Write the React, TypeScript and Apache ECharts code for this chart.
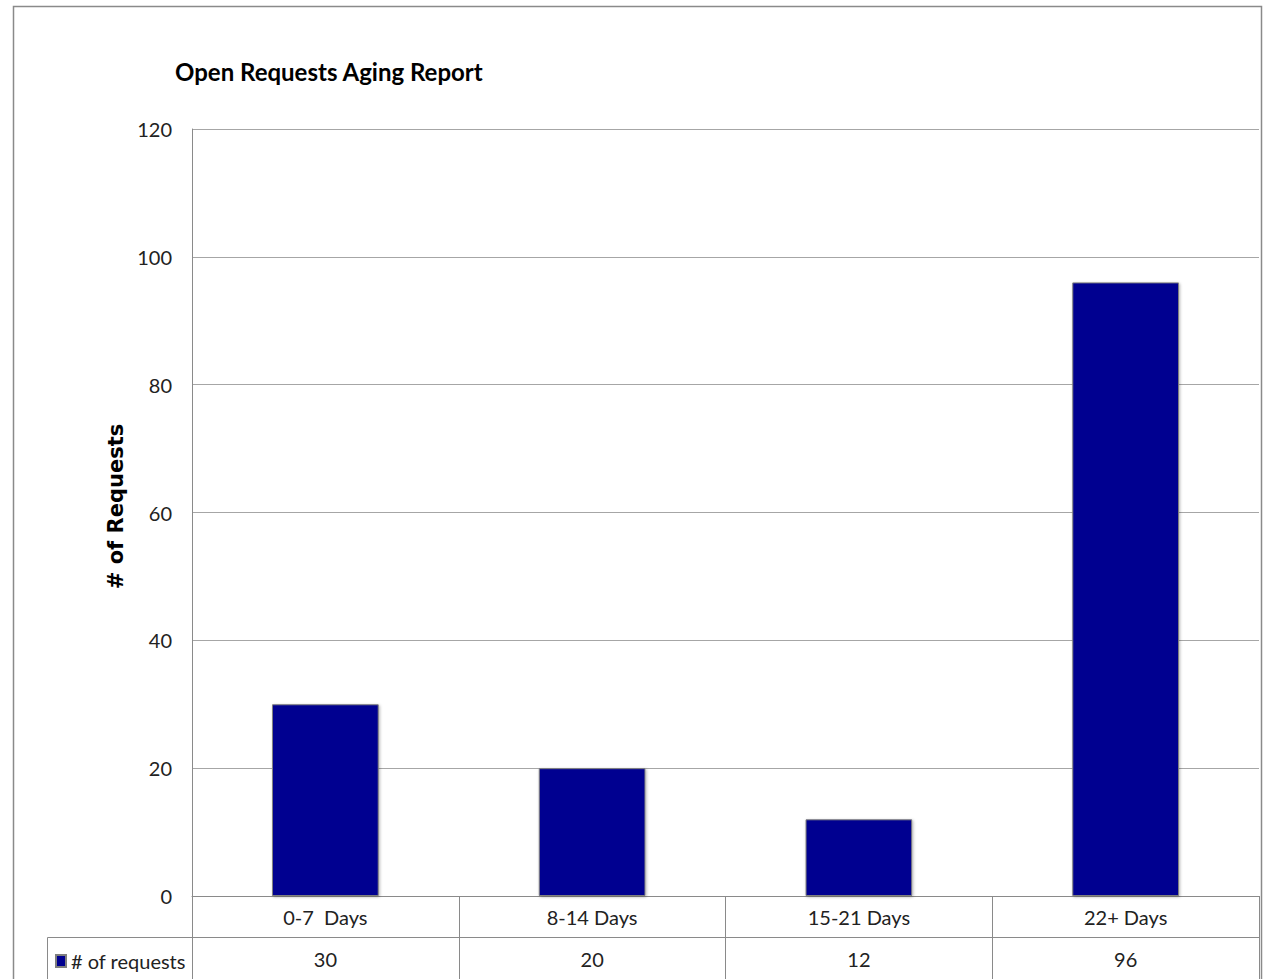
import React, { useEffect, useRef } from "react";
import * as echarts from "echarts";

const categories = ["0-7  Days", "8-14 Days", "15-21 Days", "22+ Days"];
const requests = [30, 20, 12, 96];
const seriesName = "# of requests";
const yTicks = { min: 0, max: 120, interval: 20 };

const NARROW = "Lato, 'Open Sans', sans-serif";
const LINE = "#8a8a8a";

export default function App() {
  const ref = useRef<HTMLDivElement>(null);
  useEffect(() => {
    document.body.style.margin = "0";
    const chart = echarts.init(ref.current!, null, { renderer: "svg" });
    chart.setOption({
      animation: false,
      backgroundColor: "#ffffff",
      title: {
        text: "Open Requests Aging Report",
        left: 170,
        top: 54,
        textStyle: { fontFamily: NARROW, fontSize: 24, fontWeight: "bold", color: "#000" },
      },
      legend: {
        left: 50,
        top: 946,
        icon: "rect",
        itemWidth: 10,
        itemHeight: 12,
        itemGap: 4,
        data: [seriesName],
        textStyle: { fontFamily: NARROW, fontSize: 20, color: "#222", padding: [0, 0, 0, 0] },
      },
      grid: { left: 192, top: 129, right: 5, bottom: 83, containLabel: false },
      xAxis: [
        {
          type: "category",
          data: categories,
          position: "bottom",
          axisLine: { show: true, lineStyle: { color: LINE, width: 1 } },
          axisTick: { show: true, length: 41, interval: 0, lineStyle: { color: LINE } },
          axisLabel: { fontFamily: NARROW, fontSize: 20, color: "#222", margin: 11, interval: 0 },
        },
        {
          type: "category",
          data: categories,
          position: "bottom",
          offset: 41,
          axisLine: { show: true, lineStyle: { color: LINE, width: 1 } },
          axisTick: { show: true, length: 60, interval: 0, lineStyle: { color: LINE } },
          axisLabel: {
            fontFamily: NARROW,
            fontSize: 20,
            color: "#222",
            margin: 12,
            interval: 0,
            formatter: (_v: string, i: number) => String(requests[i]),
          },
        },
      ],
      yAxis: {
        type: "value",
        min: yTicks.min,
        max: yTicks.max,
        interval: yTicks.interval,
        name: "# of Requests",
        nameLocation: "middle",
        nameGap: 56,
        nameTextStyle: {
          fontFamily: "'DejaVu Sans', sans-serif",
          fontSize: 21,
          fontWeight: "bold",
          color: "#000",
          padding: [0, 0, 0, 12],
        },
        axisLine: { show: true, lineStyle: { color: LINE } },
        axisTick: { show: false },
        axisLabel: { fontFamily: NARROW, fontSize: 20, color: "#222", margin: 20 },
        splitLine: { show: true, lineStyle: { color: "#a6a6a6", width: 1 } },
      },
      series: [
        {
          name: seriesName,
          type: "bar",
          xAxisIndex: 0,
          data: requests,
          barWidth: "40%",
          itemStyle: {
            color: "#000090",
            borderColor: "#7f7f7f",
            borderWidth: 1,
            shadowBlur: 3,
            shadowColor: "rgba(0,0,0,0.3)",
            shadowOffsetX: 1,
            shadowOffsetY: 1,
          },
        },
      ],
      graphic: [
        {
          type: "rect",
          shape: { x: 13.5, y: 6.5, width: 1248, height: 1000 },
          style: { fill: "none", stroke: "#8a8a8a", lineWidth: 1.5 },
          silent: true,
        },
        {
          type: "line",
          shape: { x1: 47.5, y1: 937.5, x2: 192, y2: 937.5 },
          style: { stroke: LINE, lineWidth: 1 },
          silent: true,
        },
        {
          type: "line",
          shape: { x1: 47.5, y1: 937.5, x2: 47.5, y2: 990 },
          style: { stroke: LINE, lineWidth: 1 },
          silent: true,
        },
      ],
    });
    return () => chart.dispose();
  }, []);
  return <div ref={ref} style={{ width: 1264, height: 979 }} />;
}
